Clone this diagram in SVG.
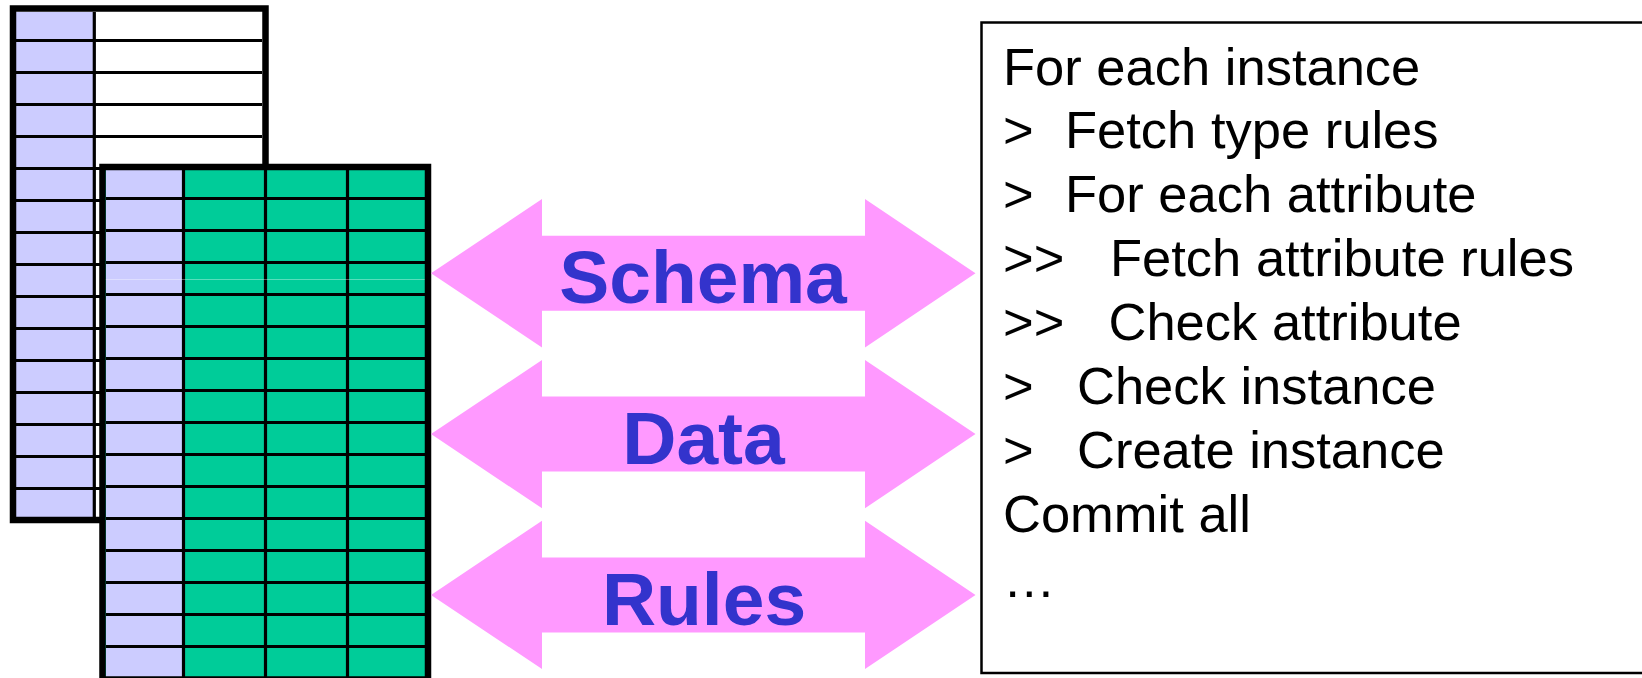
<svg xmlns="http://www.w3.org/2000/svg" width="1642" height="678" viewBox="0 0 1642 678">
  <style>
    .frame { fill: none; stroke: #000; stroke-width: 6.5; }
    .grid { fill: none; stroke: #000; stroke-width: 3.2; }
    .key { fill: #CCCCFF; }
    .cell { fill: #00CC99; }
    .blank { fill: #FFFFFF; }
    .arrow { fill: #FF99FF; }
    .label { font-family: "Liberation Sans", Arial, sans-serif; font-weight: bold; font-size: 75px; fill: #3333CC; text-anchor: middle; }
    .step { font-family: "Liberation Sans", Arial, sans-serif; font-size: 52.5px; fill: #000; }
  </style>
  <rect width="1642" height="678" fill="#FFFFFF"/>

  <!-- Back table: key column plus empty value column -->
  <g id="back-table">
    <rect class="blank" x="13" y="8.5" width="252.5" height="511.5"/>
    <rect class="key" x="16" y="12" width="78.5" height="505"/>
    <path class="grid" d="M94.3 12 V517 M16 40.5 H262 M16 72.5 H262 M16 104.5 H262 M16 136.5 H262 M16 168.5 H262 M16 200.5 H262 M16 232.5 H262 M16 264.5 H262 M16 296.5 H262 M16 328.5 H262 M16 360.5 H262 M16 392.5 H262 M16 424.5 H262 M16 456.5 H262 M16 488.5 H262"/>
    <rect class="frame" x="13" y="8.5" width="252.5" height="511.5"/>
  </g>

  <!-- Front table: key column plus three filled value columns -->
  <g id="front-table">
    <rect class="cell" x="102.5" y="167" width="325.5" height="512.5"/>
    <rect class="key" x="106" y="170" width="77.5" height="509"/>
    <path class="grid" d="M183.5 170 V678 M265.5 170 V678 M347.5 170 V678 M106 198.5 H425 M106 230.5 H425 M106 262.5 H425 M106 294.5 H425 M106 326.5 H425 M106 358.5 H425 M106 390.5 H425 M106 422.5 H425 M106 454.5 H425 M106 486.5 H425 M106 518.5 H425 M106 550.5 H425 M106 582.5 H425 M106 614.5 H425 M106 646.5 H425"/>
    <path d="M102 279.5 H429" stroke="#FFFFFF" stroke-opacity="0.35" stroke-width="1"/>
    <rect class="frame" x="102.5" y="167" width="325.5" height="512.5"/>
  </g>

  <!-- Double-headed transfer arrows between the tables and the procedure -->
  <g id="connectors">
    <g id="arrow-schema">
      <polygon class="arrow" points="431,273.3 542,199.1 542,235.8 865,235.8 865,199.1 975.5,273.3 865,347.5 865,310.8 542,310.8 542,347.5"/>
      <text class="label" x="703" y="303.3">Schema</text>
    </g>
    <g id="arrow-data">
      <polygon class="arrow" points="431,434.1 542,359.9 542,396.6 865,396.6 865,359.9 975.5,434.1 865,508.3 865,471.6 542,471.6 542,508.3"/>
      <text class="label" x="703.5" y="464">Data</text>
    </g>
    <g id="arrow-rules">
      <polygon class="arrow" points="431,594.9 542,520.7 542,557.4 865,557.4 865,520.7 975.5,594.9 865,669.1 865,632.4 542,632.4 542,669.1"/>
      <text class="label" x="704" y="625">Rules</text>
    </g>
  </g>

  <!-- Procedure box -->
  <g id="procedure">
    <rect x="981.5" y="22.5" width="680" height="650.5" fill="#FFFFFF" stroke="#000" stroke-width="2.5"/>
    <text class="step" x="1003" y="85">For each instance</text>
    <text class="step" y="148"><tspan x="1003">&gt;</tspan><tspan x="1065">Fetch type rules</tspan></text>
    <text class="step" y="211.5"><tspan x="1003">&gt;</tspan><tspan x="1065">For each attribute</tspan></text>
    <text class="step" y="275.5"><tspan x="1003">&gt;&gt;</tspan><tspan x="1110">Fetch attribute rules</tspan></text>
    <text class="step" y="339.5"><tspan x="1003">&gt;&gt;</tspan><tspan x="1108.5">Check attribute</tspan></text>
    <text class="step" y="404"><tspan x="1003">&gt;</tspan><tspan x="1077">Check instance</tspan></text>
    <text class="step" y="468"><tspan x="1003">&gt;</tspan><tspan x="1077">Create instance</tspan></text>
    <text class="step" x="1003" y="532">Commit all</text>
    <text class="step" x="1003" y="596.5">…</text>
  </g>
</svg>
